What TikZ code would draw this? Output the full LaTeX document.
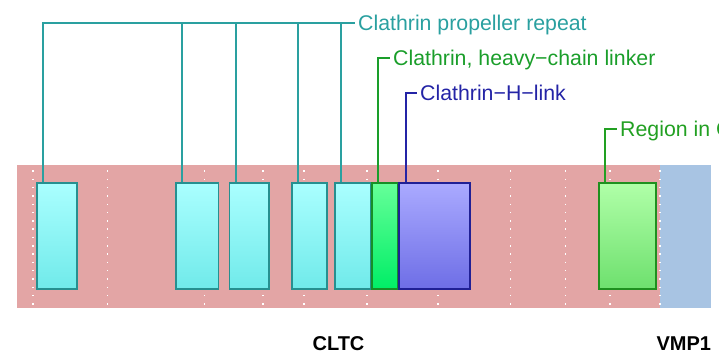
\documentclass[tikz,border=0pt]{standalone}
\usepackage{fontspec}
\usepackage{tikz}
\usetikzlibrary{positioning}
\newfontfamily\arialfont{Liberation Sans}
\definecolor{geneband}{HTML}{E3A5A5}
\definecolor{nextband}{HTML}{A8C4E3}
\definecolor{propink}{HTML}{2AA0A0}
\definecolor{linkink}{HTML}{1A9E2A}
\definecolor{hlinkink}{HTML}{2424A6}
\definecolor{regionink}{HTML}{22A022}
\definecolor{proptop}{HTML}{AAFFFF}
\definecolor{propbot}{HTML}{70EAEA}
\definecolor{linktop}{HTML}{66FF99}
\definecolor{linkbot}{HTML}{00EE66}
\definecolor{hlinktop}{HTML}{AAAAFF}
\definecolor{hlinkbot}{HTML}{6E6EE6}
\definecolor{regtop}{HTML}{B0FFA8}
\definecolor{regbot}{HTML}{6EE06E}
\tikzset{
  band/.style={inner sep=0pt, minimum height=142.5pt},
  gridline/.style={draw=white, line width=1.5pt, dash pattern=on 1.5pt off 6.8pt},
  dombox/.style={line width=1.6pt, inner sep=0pt, minimum height=106pt},
  propbox/.style={dombox, draw=propink!90!black, top color=proptop, bottom color=propbot},
  linkbox/.style={dombox, draw=linkink!90!black, top color=linktop, bottom color=linkbot},
  hlinkbox/.style={dombox, draw=hlinkink!90!black, top color=hlinktop, bottom color=hlinkbot},
  regionbox/.style={dombox, draw=regionink!90!black, top color=regtop, bottom color=regbot},
  tag/.style={font=\arialfont\fontsize{21.3}{24}\selectfont, text height=15.25pt, text depth=0pt,
              inner sep=3pt, anchor=west},
  genetag/.style={font=\arialfont\bfseries\fontsize{20}{24}\selectfont, text height=14.3pt,
                  text depth=0pt, inner sep=0pt},
  tagline/.style={line width=2pt}
}

\begin{document}
\begin{tikzpicture}[x=1pt, y=-1pt]

  \useasboundingbox (0,0) rectangle (719,358);
  \clip (0,0) rectangle (719,358);

  %% Gene bands
  \node[band, fill=geneband, minimum width=643pt] (cltc) at (338.5,236.25) {};
  \node[band, fill=nextband, minimum width=51pt] (vmp) at (685.5,236.25) {};
  \foreach \x in {33,107.7,204.7,263,304,367,438,510.7,565.7,610,660}
    \draw[gridline] (\x,170.3) -- (\x,305);

  %% Domains
  \node[propbox, minimum width=40.4pt] (p1) at (57,235.8) {};
  \node[propbox, minimum width=42.3pt] (p2) at (197.35,235.8) {};
  \node[propbox, minimum width=39.3pt] (p3) at (249.15,235.8) {};
  \node[propbox, minimum width=34.6pt] (p4) at (309.5,235.8) {};
  \node[propbox, minimum width=36.4pt] (p5) at (353,235.8) {};
  \node[linkbox, minimum width=26pt] (lnk) at (385,235.8) {};
  \node[hlinkbox, minimum width=71pt] (hlnk) at (434.3,235.8) {};
  \node[regionbox, minimum width=56.6pt] (reg) at (627.5,235.8) {};

  %% Labels
  \node[tag, text=propink] (proptag) at (355,23) {Clathrin propeller repeat};
  \node[tag, text=linkink] (lnktag) at (390,58.3) {Clathrin, heavy\textminus chain linker};
  \node[tag, text=hlinkink] (hlnktag) at (417,93.3) {Clathrin\textminus H\textminus link};
  \node[tag, text=regionink] (regtag) at (617,129.3) {Region in Clathrin and VPS};

  \foreach \n in {p1,p2,p3,p4,p5}
    \draw[tagline, draw=propink] ([xshift=7pt]\n.north west) |- (proptag.west);
  \draw[tagline, draw=linkink] ([xshift=7pt]lnk.north west) |- (lnktag.west);
  \draw[tagline, draw=hlinkink] ([xshift=7.5pt]hlnk.north west) |- (hlnktag.west);
  \draw[tagline, draw=regionink] ([xshift=7pt]reg.north west) |- (regtag.west);

  %% Gene names
  \node[genetag, below=28.3pt of cltc] (cltctag) {CLTC};
  \node[genetag, below left=28.3pt and 0pt of vmp.south east] (vmptag) {VMP1};

\end{tikzpicture}
\end{document}
